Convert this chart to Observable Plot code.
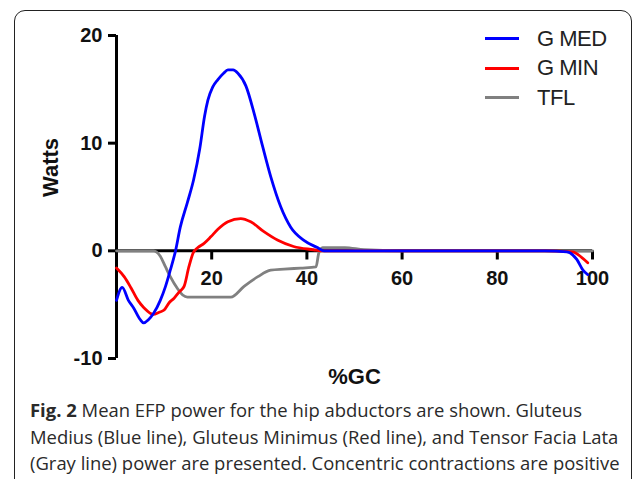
<!DOCTYPE html>
<html>
<head>
<meta charset="utf-8">
<script src="https://cdn.jsdelivr.net/npm/d3@7"></script>
<script src="https://cdn.jsdelivr.net/npm/@observablehq/plot@0.6"></script>
<style>
  html, body { margin: 0; padding: 0; background: #fff; }
  body { width: 633px; height: 479px; overflow: hidden; position: relative; }
  #frame { position: absolute; left: 14px; top: 10px; width: 618px; height: 520px; box-sizing: border-box;
           border: 1.6px solid #222; border-radius: 11px; }
  #chart { position: absolute; left: 0; top: 0; }
  #legend { position: absolute; left: 485px; top: 24px; font-family: "Liberation Sans", Arial, sans-serif;
            font-size: 22px; color: #222; letter-spacing: -0.5px; }
  #legend .row { display: flex; align-items: center; height: 29.5px; }
  #legend .sw { width: 34px; height: 3px; margin-right: 18px; }
  #caption { position: absolute; left: 30px; top: 397px; font-family: "Open Sans", sans-serif; font-size: 18.45px;
             line-height: 26.5px; color: #2a2a2a; white-space: nowrap; }
</style>
</head>
<body>
<div id="frame"></div>
<div id="chart"></div>
<div id="legend"></div>
<div id="caption"><b>Fig. 2</b> Mean EFP power for the hip abductors are shown. Gluteus<br>Medius (Blue line), Gluteus Minimus (Red line), and Tensor Facia Lata<br>(Gray line) power are presented. Concentric contractions are positive</div>
<script>
// ---- data ----
const xDomain = [0, 100];
const yDomain = [-10, 20];
const xTicks = [20, 40, 60, 80, 100];
const yTicks = [-10, 0, 10, 20];
const seriesNames = ["G MED", "G MIN", "TFL"];
const seriesColors = ["#0000ff", "#ff0000", "#808080"];

const gmedX = [0, 1.2, 2.5, 3.6, 5, 5.7, 6.7, 7.8, 9.2, 10.3, 11.3, 12.4, 13.4, 14.9, 16.2, 17.5, 18.5, 19.2, 20.2, 21.3, 22.5, 23.4, 24.5, 25.5, 27.2, 28.9, 30.7, 32.4, 34.5, 36.6, 39.3, 42.2, 43.6, 50, 60, 70, 80, 90, 94.6, 96.7, 98, 99];
const gmedY = [-4.6, -3.4, -4.6, -5.3, -6.4, -6.7, -6.4, -5.8, -4.6, -3.3, -1.8, 0, 2.2, 4.5, 6.6, 9.5, 12.5, 14.0, 15.2, 15.9, 16.5, 16.8, 16.8, 16.5, 15.3, 12.8, 9.7, 6.9, 4.1, 2.2, 1.0, 0.3, 0, 0, 0, 0, 0, 0, -0.1, -0.8, -1.8, -2.2];

const gminX = [0, 1.6, 3.0, 4.5, 5.8, 7.7, 9.0, 10.0, 11.1, 12.1, 13.2, 14.2, 15.2, 16.1, 17.1, 18.4, 19.8, 21.3, 23.4, 26.1, 28.2, 30.9, 33.8, 37.2, 41.4, 43, 50, 60, 70, 80, 90, 95.8, 97.7, 99];
const gminY = [-1.6, -2.4, -3.4, -4.6, -5.3, -5.9, -5.7, -5.5, -4.8, -4.4, -3.8, -3.3, -1.5, -0.2, 0.3, 0.7, 1.3, 2.0, 2.7, 3.0, 2.7, 1.8, 1.0, 0.4, 0.1, 0, 0, 0, 0, 0, 0, -0.1, -0.6, -1.1];

const tflX = [0, 7.8, 9.2, 10.3, 11.3, 12.8, 13.9, 14.9, 19.8, 24.0, 26.8, 29.7, 32.4, 35.2, 38.7, 41.9, 42.5, 43.3, 48, 52, 60, 100];
const tflY = [0, 0, -0.5, -1.5, -2.4, -3.5, -4.1, -4.3, -4.3, -4.3, -3.3, -2.4, -1.8, -1.7, -1.6, -1.5, -0.2, 0.3, 0.3, 0.1, 0, 0];

// ---- build tables ----
const toRows = (xs, ys) => xs.map((x, i) => ({x, y: ys[i]}));
const gmed = toRows(gmedX, gmedY);
const gmin = toRows(gminX, gminY);
const tfl = toRows(tflX, tflY);

const font = "'Liberation Sans', Arial, sans-serif";
const chart = Plot.plot({
  width: 633,
  height: 400,
  marginLeft: 116,
  marginRight: 41,
  marginTop: 35,
  marginBottom: 42,
  style: {fontFamily: font, background: "transparent", overflow: "visible"},
  x: {domain: xDomain, axis: null},
  y: {domain: yDomain, axis: null},
  marks: [
    // y axis
    Plot.ruleX([xDomain[0]], {y1: yDomain[0], y2: yDomain[1], stroke: "#000", strokeWidth: 3}),
    Plot.axisY({ticks: yTicks, anchor: "left", tickSize: 8, tickPadding: 6, strokeWidth: 3,
                fontSize: 20, fontWeight: "bold", fill: "#111", label: null, tickFormat: d => String(d)}),
    // x axis along y = 0
    Plot.ruleY([0], {x1: xDomain[0], x2: xDomain[1], stroke: "#000", strokeWidth: 3}),
    Plot.ruleX(xTicks, {x: d => d, y1: 0, y2: -0.85, stroke: "#000", strokeWidth: 3}),
    Plot.text(xTicks, {x: d => d, y: 0, dy: 28, text: d => String(d), fontSize: 20, fontWeight: "bold", fill: "#111", lineAnchor: "middle"}),
    // axis titles
    Plot.text(["%GC"], {frameAnchor: "bottom", dy: 18, text: d => d, fontSize: 22, fontWeight: "bold", fill: "#111", lineAnchor: "middle"}),
    Plot.text(["Watts"], {frameAnchor: "left", dx: -66, rotate: -90, text: d => d, fontSize: 22, fontWeight: "bold", fill: "#111", lineAnchor: "middle"}),
    // series
    Plot.line(tfl, {x: "x", y: "y", stroke: seriesColors[2], strokeWidth: 2.8, curve: "monotone-x"}),
    Plot.line(gmin, {x: "x", y: "y", stroke: seriesColors[1], strokeWidth: 2.8, curve: "monotone-x"}),
    Plot.line(gmed, {x: "x", y: "y", stroke: seriesColors[0], strokeWidth: 2.8, curve: "monotone-x"})
  ]
});
document.getElementById("chart").appendChild(chart);

// legend
const legend = document.getElementById("legend");
seriesNames.forEach((name, i) => {
  const row = document.createElement("div");
  row.className = "row";
  const sw = document.createElement("span");
  sw.className = "sw";
  sw.style.background = seriesColors[i];
  const lab = document.createElement("span");
  lab.textContent = name;
  row.appendChild(sw);
  row.appendChild(lab);
  legend.appendChild(row);
});
</script>
</body>
</html>
